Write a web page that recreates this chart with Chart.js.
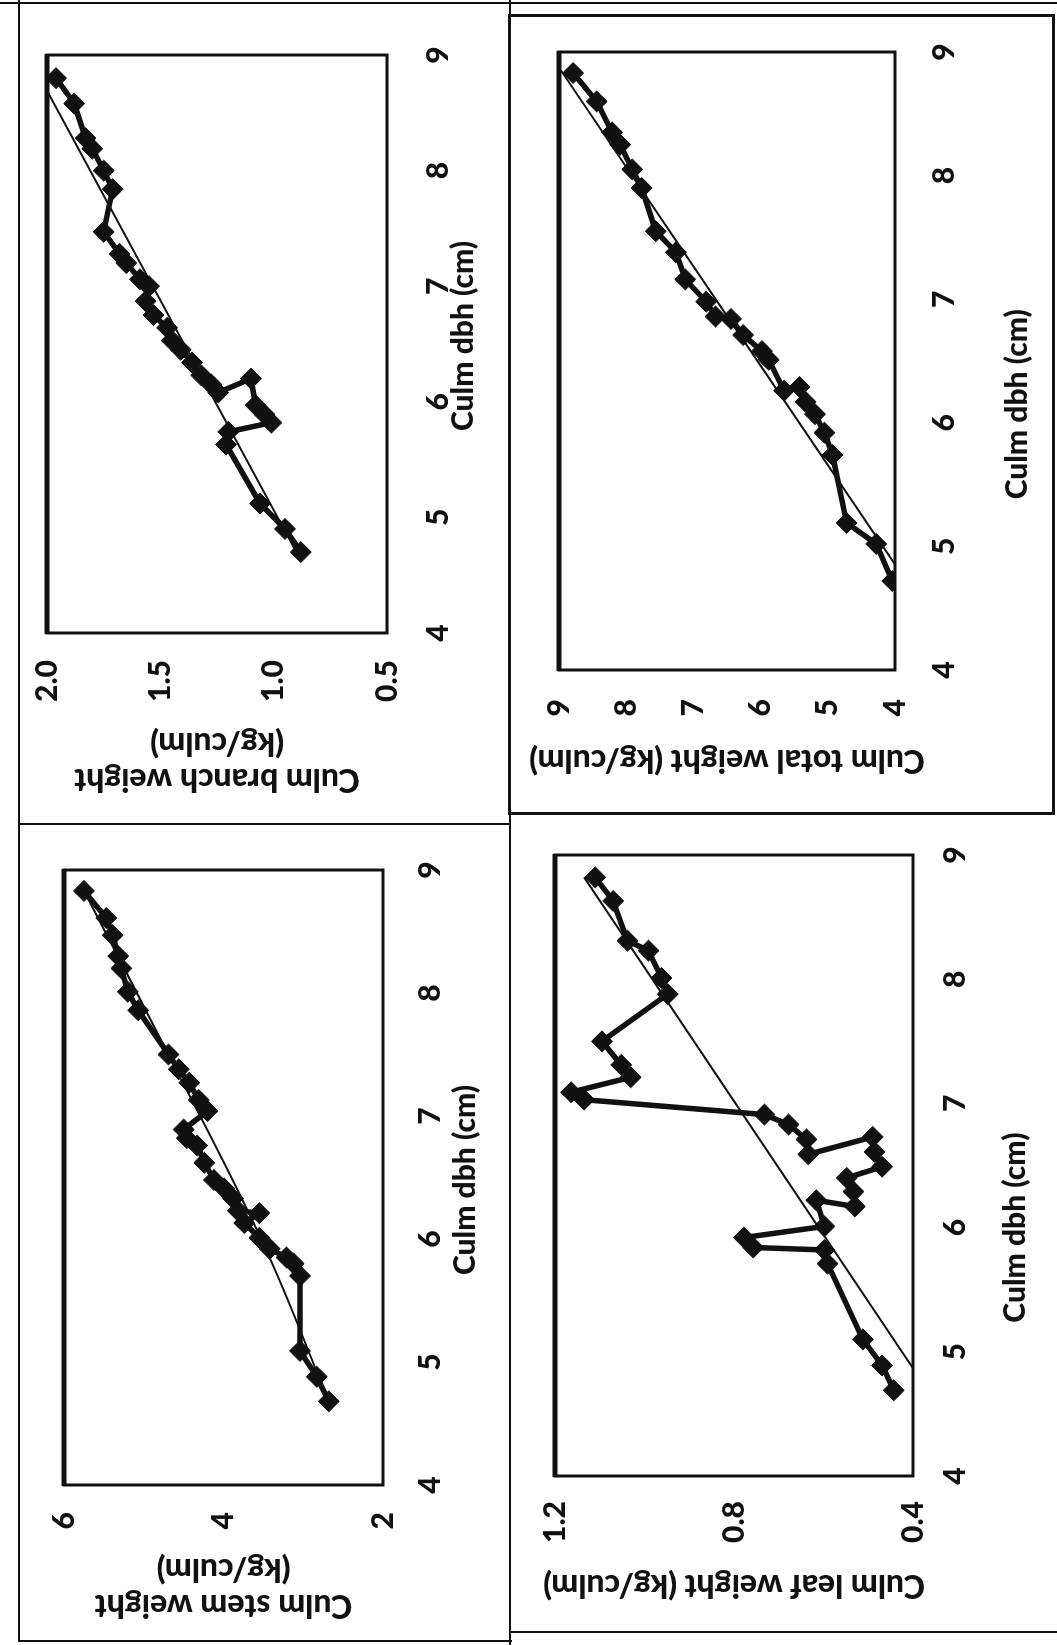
<!DOCTYPE html>
<html>
<head>
<meta charset="utf-8">
<script src="https://cdn.jsdelivr.net/npm/chart.js@4.4.1/dist/chart.umd.min.js"></script>
<style>
  html, body { margin: 0; padding: 0; background: #fff; }
  body { width: 1057px; height: 1645px; position: relative; overflow: hidden; }
  .panel { position: absolute; transform-origin: 0 0; transform: rotate(-90deg); }
  .rule { position: absolute; background: #111; }
  .box { position: absolute; border: 3px solid #111; box-sizing: border-box; }
</style>
</head>
<body>

<div class="panel" id="pBranch"><canvas></canvas></div>
<div class="panel" id="pStem"><canvas></canvas></div>
<div class="panel" id="pTotal"><canvas></canvas></div>
<div class="panel" id="pLeaf"><canvas></canvas></div>

<!-- page rules of the scanned figure -->
<div class="rule" style="left:0;top:2px;width:1057px;height:2px"></div>
<div class="rule" style="left:18px;top:0;width:2px;height:1642px"></div>
<div class="rule" style="left:18px;top:1640px;width:494px;height:2px"></div>
<div class="rule" style="left:509px;top:0;width:2px;height:1645px"></div>
<div class="rule" style="left:18px;top:823px;width:492px;height:2px"></div>
<div class="box" style="left:508px;top:14px;width:547px;height:801px"></div>
<div class="rule" style="left:510px;top:1631px;width:547px;height:2px"></div>

<script>
// x axis: culm dbh (cm)
const dbhTicks = [4, 5, 6, 7, 8, 9];

// culm branch weight (kg/culm)
const branchDbh = [8.80, 8.58, 8.28, 8.19, 8.00, 7.84, 7.47, 7.28, 7.20, 7.06, 7.00, 6.87, 6.75, 6.64, 6.53,
                   6.45, 6.34, 6.23, 6.15, 6.08, 6.20, 5.97, 5.89, 5.82, 5.74, 5.63, 5.12, 4.90, 4.70];
const branchWt = [1.96, 1.88, 1.83, 1.80, 1.75, 1.71, 1.75, 1.68, 1.65, 1.59, 1.55, 1.565, 1.53, 1.47, 1.45,
                  1.41, 1.36, 1.32, 1.275, 1.245, 1.10, 1.08, 1.04, 1.01, 1.20, 1.21, 1.06, 0.95, 0.88];
const branchTrendDbh = [4.70, 8.80];
const branchTrendWt = [0.90, 2.03];
const branchTicks = [0.5, 1.0, 1.5, 2.0];

// culm stem weight (kg/culm)
const stemDbh = [8.83, 8.61, 8.47, 8.30, 8.20, 8.01, 7.86, 7.50, 7.38, 7.27, 7.13, 7.04, 6.89, 6.82, 6.76,
                 6.62, 6.48, 6.41, 6.33, 6.23, 6.21, 6.13, 6.01, 5.92, 5.85, 5.80, 5.70, 5.09, 4.88, 4.68];
const stemWt = [5.75, 5.47, 5.39, 5.32, 5.28, 5.20, 5.07, 4.69, 4.56, 4.43, 4.31, 4.20, 4.50, 4.46, 4.33,
                4.24, 4.12, 3.99, 3.88, 3.82, 3.55, 3.74, 3.55, 3.42, 3.21, 3.12, 3.04, 3.04, 2.83, 2.68];
const stemTrendDbh = [4.68, 5.96, 7.50, 8.82];
const stemTrendWt = [2.68, 3.50, 4.69, 5.74];
const stemTicks = [2, 4, 6];

// culm leaf weight (kg/culm)
const leafDbh = [8.82, 8.63, 8.31, 8.23, 8.01, 7.88, 7.50, 7.31, 7.21, 7.09, 7.03, 6.91, 6.83, 6.71, 6.59,
                 6.73, 6.61, 6.49, 6.40, 6.29, 6.17, 6.22, 6.01, 5.92, 5.84, 5.82, 5.71, 5.10, 4.89, 4.69];
const leafWt = [1.110, 1.070, 1.038, 0.991, 0.962, 0.948, 1.095, 1.052, 1.031, 1.164, 1.135, 0.732, 0.678, 0.638, 0.634,
                0.490, 0.486, 0.469, 0.548, 0.533, 0.530, 0.616, 0.598, 0.778, 0.757, 0.598, 0.591, 0.512, 0.469, 0.443];
const leafTrendDbh = [4.69, 8.82];
const leafTrendWt = [0.367, 1.135];
const leafTicks = [0.4, 0.8, 1.2];

// culm total weight (kg/culm)
const totalDbh = [8.83, 8.60, 8.35, 8.25, 8.05, 7.90, 7.55, 7.38, 7.16, 6.98, 6.86, 6.84, 6.71, 6.58, 6.51,
                  6.26, 6.29, 6.17, 6.07, 5.92, 5.74, 5.19, 5.02, 4.72];
const totalWt = [8.79, 8.44, 8.21, 8.09, 7.91, 7.77, 7.56, 7.26, 7.12, 6.81, 6.67, 6.44, 6.26, 5.98, 5.88,
                 5.65, 5.42, 5.33, 5.19, 5.05, 4.93, 4.72, 4.28, 4.04];
const totalTrendDbh = [4.75, 8.85];
const totalTrendWt = [3.87, 8.97];
const totalTicks = [4, 5, 6, 7, 8, 9];

const FONT = 'Lato, "Open Sans", sans-serif';
const INK = '#111';

// plot-area frame, heavier on the top edge like the scan
const frame = {
  id: 'frame',
  afterDatasetsDraw(chart) {
    const a = chart.chartArea, c = chart.ctx;
    c.save();
    c.strokeStyle = INK;
    c.lineWidth = 3;
    c.strokeRect(a.left, a.top, a.right - a.left, a.bottom - a.top);
    c.lineWidth = 5;
    c.beginPath();
    c.moveTo(a.left - 1, a.top);
    c.lineTo(a.right + 1, a.top);
    c.stroke();
    c.restore();
  }
};

function pairs(xs, ys) {
  return xs.map((x, i) => ({ x: x, y: ys[i] }));
}

// each panel is drawn upright and then turned a quarter turn, like the page
function drawPanel(cfg) {
  const wrap = document.getElementById(cfg.id);
  const W = cfg.imgY[1] - cfg.imgY[0];
  const H = cfg.imgX[1] - cfg.imgX[0];
  wrap.style.left = cfg.imgX[0] + 'px';
  wrap.style.top = cfg.imgY[1] + 'px';
  wrap.style.width = W + 'px';
  wrap.style.height = H + 'px';
  const canvas = wrap.querySelector('canvas');
  canvas.width = W;
  canvas.height = H;
  const a = cfg.area;
  const yTicks = cfg.yTicks;

  const xTitle = {
    id: 'xTitle',
    afterDraw(chart) {
      const c = chart.ctx;
      c.save();
      c.font = '900 30px ' + FONT;
      c.fillStyle = INK;
      c.textAlign = 'center';
      c.textBaseline = 'middle';
      c.fillText('Culm dbh (cm)', chart.scales.x.getPixelForValue(cfg.xTitleAt), cfg.xTitleY);
      c.restore();
    }
  };

  new Chart(canvas, {
    type: 'scatter',
    data: {
      datasets: [{
        data: pairs(cfg.dbh, cfg.wt),
        showLine: true,
        borderColor: INK,
        borderWidth: 5.5,
        pointStyle: 'rectRot',
        pointRadius: 10.5,
        pointBackgroundColor: INK,
        pointBorderColor: INK,
        pointBorderWidth: 1
      }, {
        data: pairs(cfg.trendDbh, cfg.trendWt),
        showLine: true,
        borderColor: INK,
        borderWidth: 2,
        tension: 0.4,
        pointRadius: 0
      }]
    },
    options: {
      responsive: false,
      animation: false,
      layout: { padding: { left: 0, top: a.top, right: W - a.right, bottom: 0 } },
      plugins: { legend: { display: false }, tooltip: { enabled: false } },
      scales: {
        x: {
          type: 'linear', min: 4, max: 9,
          grid: { display: false, drawTicks: false },
          border: { display: false },
          afterFit: s => { s.height = H - a.bottom; },
          afterBuildTicks: s => { s.ticks = dbhTicks.map(v => ({ value: v })); },
          ticks: { padding: cfg.xPad, color: INK, font: { family: FONT, size: 30, weight: 900 } }
        },
        y: {
          type: 'linear', min: yTicks[0], max: yTicks[yTicks.length - 1],
          grid: { display: false, drawTicks: false },
          border: { display: false },
          afterFit: s => { s.width = a.left; },
          afterBuildTicks: s => { s.ticks = yTicks.map(v => ({ value: v })); },
          ticks: {
            padding: cfg.yPad, color: INK,
            font: { family: FONT, size: 30, weight: 900 },
            callback: v => v.toFixed(cfg.dec)
          },
          title: {
            display: true, text: cfg.yTitle, color: INK,
            padding: { top: cfg.yTitlePad, bottom: 0 },
            font: { family: FONT, size: 32, weight: 900, lineHeight: 1.12 }
          }
        }
      }
    },
    plugins: [frame, xTitle]
  });
}

drawPanel({
  id: 'pBranch', imgX: [0, 512], imgY: [0, 823],
  area: { left: 190, right: 768, top: 47, bottom: 387 },
  dbh: branchDbh, wt: branchWt, trendDbh: branchTrendDbh, trendWt: branchTrendWt,
  yTicks: branchTicks, dec: 1, yPad: 27, xPad: 33,
  yTitle: ['Culm branch weight', '(kg/culm)'], yTitlePad: 26,
  xTitleAt: 6.57, xTitleY: 463
});

drawPanel({
  id: 'pStem', imgX: [0, 512], imgY: [823, 1645],
  area: { left: 160, right: 775, top: 64, bottom: 383 },
  dbh: stemDbh, wt: stemWt, trendDbh: stemTrendDbh, trendWt: stemTrendWt,
  yTicks: stemTicks, dec: 0, yPad: 27, xPad: 29,
  yTitle: ['Culm stem weight', '(kg/culm)'], yTitlePad: 22,
  xTitleAt: 6.48, xTitleY: 465
});

drawPanel({
  id: 'pLeaf', imgX: [512, 1057], imgY: [805, 1645],
  area: { left: 169, right: 790, top: 30, bottom: 401 },
  dbh: leafDbh, wt: leafWt, trendDbh: leafTrendDbh, trendWt: leafTrendWt,
  yTicks: leafTicks, dec: 1, yPad: 25, xPad: 24,
  yTitle: 'Culm leaf weight (kg/culm)', yTitlePad: 42,
  xTitleAt: 6.0, xTitleY: 503
});

drawPanel({
  id: 'pTotal', imgX: [512, 1050], imgY: [0, 805],
  area: { left: 135, right: 753, top: 25, bottom: 383 },
  dbh: totalDbh, wt: totalWt, trendDbh: totalTrendDbh, trendWt: totalTrendWt,
  yTicks: totalTicks, dec: 0, yPad: 29, xPad: 31,
  yTitle: 'Culm total weight (kg/culm)', yTitlePad: 27,
  xTitleAt: 6.15, xTitleY: 505
});
</script>
</body>
</html>
